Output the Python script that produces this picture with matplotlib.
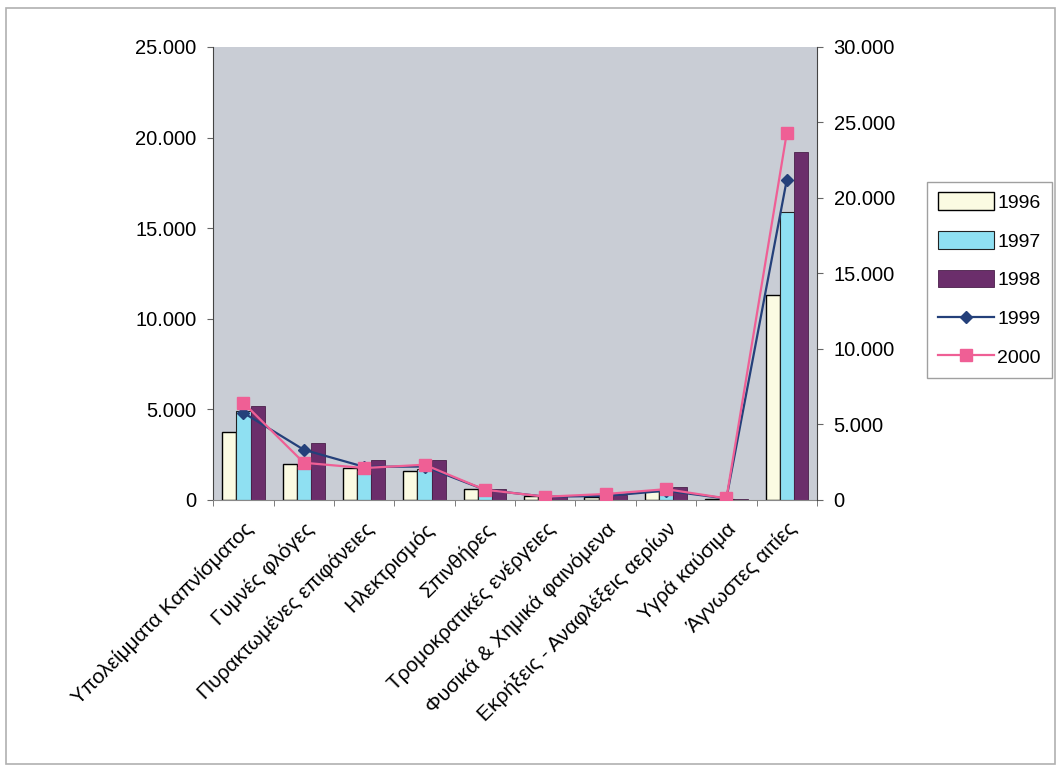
import numpy as np
import matplotlib.pyplot as plt
from matplotlib.patches import Rectangle
from matplotlib.ticker import FuncFormatter, FixedLocator

plt.rcParams['font.family'] = ['Liberation Sans', 'DejaVu Sans']

# Αιτίες πυρκαγιών
causes = [
    "Υπολείμματα Καπνίσματος",
    "Γυμνές φλόγες",
    "Πυρακτωμένες επιφάνειες",
    "Ηλεκτρισμός",
    "Σπινθήρες",
    "Τρομοκρατικές ενέργειες",
    "Φυσικά & Χημικά φαινόμενα",
    "Εκρήξεις - Αναφλέξεις αερίων",
    "Υγρά καύσιμα",
    "Άγνωστες αιτίες",
]

# ράβδοι (αριστερός άξονας)
y1996 = [3750, 1990, 1770, 1600, 620, 180, 150, 480, 30, 11300]
y1997 = [4900, 1800, 1600, 1700, 600, 150, 200, 400, 30, 15900]
y1998 = [5190, 3150, 2200, 2200, 620, 200, 250, 700, 40, 19200]
# γραμμές (δεξιός άξονας)
y1999 = [5760, 3310, 2180, 2200, 660, 200, 250, 600, 80, 21200]
y2000 = [6420, 2450, 2100, 2320, 660, 200, 380, 700, 90, 24300]

left_ticks = [0, 5000, 10000, 15000, 20000, 25000]
right_ticks = [0, 5000, 10000, 15000, 20000, 25000, 30000]


def thousands(v, pos):
    return f"{int(v):,}".replace(",", ".")


fig = plt.figure(figsize=(10.61, 7.70), dpi=100)
fig.patches.append(Rectangle((0.006, 0.008), 0.988, 0.982, transform=fig.transFigure,
                             fill=False, edgecolor="#b0b0b0", linewidth=1.2))

ax = fig.add_axes([0.201, 0.351, 0.569, 0.588])
ax.set_facecolor("#c9cdd5")

x = np.arange(len(causes))
w = 0.235
ax.bar(x - w, y1996, w, color="#fbfbe2", edgecolor="black", linewidth=1.0, label="1996")
ax.bar(x, y1997, w, color="#8fe0f2", edgecolor="#222222", linewidth=0.8, label="1997")
ax.bar(x + w, y1998, w, color="#6b2e6b", edgecolor="#4a1f4a", linewidth=0.6, label="1998")

ax.set_xlim(-0.5, len(causes) - 0.5)
ax.set_ylim(0, 25000)
ax.yaxis.set_major_locator(FixedLocator(left_ticks))
ax.yaxis.set_major_formatter(FuncFormatter(thousands))
ax.tick_params(axis="y", labelsize=14.5, length=4, color="#666666", pad=8)

ax.set_xticks(x)
ax.set_xticklabels(causes, rotation=45, ha="right", rotation_mode="anchor", fontsize=15)
ax.tick_params(axis="x", length=0, pad=14)
ax.set_xticks(np.arange(-0.5, len(causes)), minor=True)
ax.tick_params(axis="x", which="minor", length=4, color="#666666")

ax.spines["top"].set_visible(False)
ax.spines["left"].set_color("#444444")
ax.spines["bottom"].set_color("#888888")
ax.spines["right"].set_visible(False)

ax2 = ax.twinx()
ax2.plot(x, y1999, color="#24407a", marker="D", markersize=6, linewidth=1.6, label="1999")
ax2.plot(x, y2000, color="#ef5f95", marker="s", markersize=8, linewidth=1.6, label="2000")
ax2.set_ylim(0, 30000)
ax2.yaxis.set_major_locator(FixedLocator(right_ticks))
ax2.yaxis.set_major_formatter(FuncFormatter(thousands))
ax2.tick_params(axis="y", labelsize=14.5, length=4, color="#666666", pad=8)
ax2.spines["top"].set_visible(False)
ax2.spines["left"].set_visible(False)
ax2.spines["bottom"].set_visible(False)
ax2.spines["right"].set_color("#444444")

h1, l1 = ax.get_legend_handles_labels()
h2, l2 = ax2.get_legend_handles_labels()
fig.legend(h1 + h2, l1 + l2, loc="upper left", bbox_to_anchor=(0.874, 0.764),
           borderaxespad=0, frameon=True, fancybox=False, edgecolor="#888888",
           fontsize=14, handlelength=2.9, handleheight=1.0, labelspacing=1.0,
           borderpad=0.55, handletextpad=0.15)

fig.savefig("out.png", dpi=100, facecolor="white")
